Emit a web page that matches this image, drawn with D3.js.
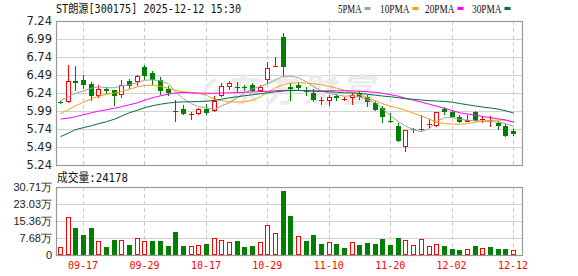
<!DOCTYPE html>
<html>
<head>
<meta charset="utf-8">
<script src="https://cdn.jsdelivr.net/npm/d3@7"></script>
<style>
  body { margin: 0; background: #fff; }
  svg { display: block; }
</style>
</head>
<body>
<svg id="chart" width="578" height="276"></svg>
<script>
// ---- data ----
const dates = [
  '09-12','09-15','09-16','09-17','09-18','09-19','09-22','09-23','09-24','09-25','09-26','09-29','09-30',
  '10-09','10-10','10-13','10-14','10-15','10-16','10-17','10-20','10-21','10-22','10-23','10-24','10-27','10-28','10-29','10-30','10-31',
  '11-03','11-04','11-05','11-06','11-07','11-10','11-11','11-12','11-13','11-14','11-17','11-18','11-19','11-20','11-21','11-24','11-25','11-26','11-27','11-28',
  '12-01','12-02','12-03','12-04','12-05','12-08','12-09','12-10','12-11','12-12'
];
const open = [
  6.11, 6.115, 6.41, 6.416, 6.36, 6.194, 6.30, 6.277, 6.212, 6.402,
  6.388, 6.606, 6.518, 6.425, 6.30, 5.985, 6.012, 5.935, 5.95, 6.022,
  5.984, 6.192, 6.33, 6.32, 6.32, 6.354, 6.27, 6.414, 6.60, 7.014,
  6.32, 6.358, 6.265, 6.234, 6.135, 6.123, 6.202, 6.155, 6.17, 6.24,
  6.181, 6.101, 6.036, 5.85, 5.786, 5.49, 5.735, 5.735, 5.795, 5.777,
  6.018, 5.971, 5.907, 5.838, 5.971, 5.865, 5.852, 5.824, 5.786, 5.717
];
const high = [
  6.133, 6.624, 6.61, 6.485, 6.393, 6.356, 6.323, 6.286, 6.416, 6.434,
  6.49, 6.634, 6.541, 6.462, 6.333, 6.137, 6.067, 5.976, 6.03, 6.087,
  6.192, 6.378, 6.40, 6.386, 6.354, 6.372, 6.345, 6.666, 6.746, 7.08,
  6.378, 6.386, 6.326, 6.295, 6.178, 6.216, 6.22, 6.184, 6.24, 6.261,
  6.216, 6.13, 6.056, 5.962, 5.824, 5.725, 5.755, 5.939, 5.879, 5.98,
  6.045, 6.008, 5.939, 5.939, 5.985, 5.915, 5.915, 5.846, 5.814, 5.741
];
const low = [
  6.087, 6.10, 6.263, 6.296, 6.125, 6.166, 6.226, 6.055, 6.166, 6.30,
  6.333, 6.425, 6.356, 6.217, 6.194, 5.838, 5.935, 5.865, 5.94, 5.935,
  5.97, 6.178, 6.285, 6.247, 6.261, 6.247, 6.247, 6.37, 6.60, 6.469,
  6.123, 6.275, 6.202, 6.115, 6.077, 6.063, 6.133, 6.133, 6.077, 6.146,
  6.05, 5.99, 5.824, 5.824, 5.565, 5.417, 5.685, 5.708, 5.755, 5.77,
  5.939, 5.893, 5.824, 5.832, 5.832, 5.824, 5.763, 5.731, 5.63, 5.64
];
const close = [
  6.105, 6.407, 6.375, 6.346, 6.194, 6.30, 6.272, 6.194, 6.356, 6.333,
  6.48, 6.481, 6.425, 6.263, 6.24, 5.978, 5.948, 5.955, 6.022, 5.957,
  6.133, 6.34, 6.372, 6.31, 6.305, 6.267, 6.33, 6.585, 6.61, 6.599,
  6.30, 6.305, 6.255, 6.146, 6.14, 6.178, 6.17, 6.16, 6.216, 6.178,
  6.112, 6.008, 5.904, 5.84, 5.569, 5.72, 5.728, 5.73, 5.805, 5.976,
  5.971, 5.901, 5.832, 5.86, 5.855, 5.875, 5.86, 5.777, 5.638, 5.676
];
const closeBefore = 6.05;
const volume = [
  36000, 170000, 122000, 90000, 122000, 62000, 36000, 68000, 66000, 45000,
  75000, 62000, 63000, 63000, 41000, 104000, 41000, 39000, 44000, 50000,
  75000, 66000, 57000, 63000, 36000, 41000, 57000, 134000, 98000, 289000,
  176000, 84000, 63000, 90000, 50000, 57000, 50000, 32000, 57000, 45000,
  54000, 50000, 72000, 45000, 77000, 66000, 44000, 71000, 39000, 48000,
  41000, 27000, 23000, 26000, 41000, 30000, 36000, 27000, 27000, 24178
];
const ma5 = [
  6.133, 6.188, 6.236, 6.27, 6.305, 6.326, 6.313, 6.313, 6.34, 6.354,
  6.382, 6.416, 6.423, 6.41, 6.368, 6.257, 6.16, 6.091, 6.05, 6.036,
  6.008, 6.063, 6.105, 6.174, 6.243, 6.299, 6.333, 6.368, 6.423, 6.472,
  6.472, 6.451, 6.396, 6.326, 6.271, 6.236, 6.216, 6.195, 6.202, 6.188,
  6.146, 6.105, 6.022, 5.925, 5.842, 5.78, 5.731, 5.703, 5.745, 5.842,
  5.897, 5.897, 5.876, 5.862, 5.856, 5.849, 5.842, 5.835, 5.814, 5.78
];
const ma10 = [
  5.953, 6.008, 6.063, 6.112, 6.16, 6.195, 6.223, 6.24, 6.257, 6.292,
  6.326, 6.344, 6.347, 6.333, 6.306, 6.278, 6.257, 6.243, 6.236, 6.209,
  6.153, 6.133, 6.119, 6.115, 6.119, 6.14, 6.188, 6.25, 6.313, 6.354,
  6.375, 6.382, 6.379, 6.368, 6.354, 6.33, 6.308, 6.278, 6.25, 6.216,
  6.174, 6.133, 6.091, 6.056, 6.029, 6.001, 5.96, 5.918, 5.876, 5.835,
  5.814, 5.807, 5.807, 5.814, 5.835, 5.849, 5.86, 5.862, 5.865, 5.835
];
const ma20 = [
  5.879, 5.89, 5.911, 5.939, 5.966, 5.987, 6.008, 6.029, 6.05, 6.077,
  6.105, 6.14, 6.174, 6.202, 6.223, 6.243, 6.247, 6.243, 6.239, 6.236,
  6.236, 6.239, 6.243, 6.246, 6.25, 6.254, 6.26, 6.264, 6.271, 6.275,
  6.278, 6.275, 6.271, 6.268, 6.268, 6.271, 6.271, 6.271, 6.268, 6.264,
  6.257, 6.25, 6.236, 6.216, 6.195, 6.167, 6.14, 6.112, 6.084, 6.056,
  6.029, 5.994, 5.966, 5.948, 5.932, 5.915, 5.897, 5.88, 5.865, 5.835
];
const ma30 = [
  5.634, 5.683, 5.731, 5.759, 5.786, 5.814, 5.842, 5.876, 5.918, 5.966,
  6.001, 6.036, 6.063, 6.084, 6.101, 6.112, 6.116, 6.119, 6.122, 6.126,
  6.137, 6.153, 6.174, 6.188, 6.202, 6.216, 6.23, 6.243, 6.257, 6.267,
  6.274, 6.274, 6.271, 6.267, 6.261, 6.257, 6.25, 6.243, 6.24, 6.236,
  6.223, 6.209, 6.198, 6.188, 6.174, 6.16, 6.153, 6.142, 6.133, 6.129,
  6.123, 6.112, 6.095, 6.077, 6.059, 6.045, 6.032, 6.015, 5.994, 5.962
];
const priceTicks = [5.24, 5.49, 5.74, 5.99, 6.24, 6.49, 6.74, 6.99, 7.24];
const volTicks = [0, 76800, 153600, 230300, 307100];
const volTickLabels = ['0', '7.68万', '15.36万', '23.03万', '30.71万'];
const dateTicks = ['09-17', '09-29', '10-17', '10-29', '11-10', '11-20', '12-02', '12-12'];
const maNames = ['5PMA', '10PMA', '20PMA', '30PMA'];

// ---- layout ----
const left = 56, right = 522;
const pTop = 21, pBottom = 165;
const vTop = 187, vBottom = 255;
const RED = '#ff0000', GREEN = '#008000';
const maColors = ['#a0a0a0', '#f0a30a', '#ff00ff', '#00703c'];
const maData = [ma5, ma10, ma20, ma30];
const monoFont = '"DejaVu Sans Mono", "Noto Sans CJK SC", monospace';

const svg = d3.select('#chart');

const x = d3.scaleBand().domain(dates).range([left, 517]).paddingInner(0.35).paddingOuter(0.2);
const cx = (i) => Math.round(x(dates[i]) + x.bandwidth() / 2);
const y = d3.scaleLinear().domain([5.24, 7.24]).range([pBottom, pTop]);
const yv = d3.scaleLinear().domain([0, 307100]).range([vBottom, vTop]);
const crisp = (v) => Math.round(v) + 0.5;

// ---- gridlines ----
const grid = svg.append('g');
grid.selectAll('.hp').data(priceTicks).join('line')
  .attr('x1', left).attr('x2', right)
  .attr('y1', (d) => crisp(y(d))).attr('y2', (d) => crisp(y(d)))
  .attr('stroke', '#d2d2d2');
grid.selectAll('.hv').data(volTicks).join('line')
  .attr('x1', left).attr('x2', right)
  .attr('y1', (d) => crisp(yv(d))).attr('y2', (d) => crisp(yv(d)))
  .attr('stroke', '#d2d2d2');
[[pTop, pBottom], [vTop, vBottom]].forEach(([a, b]) => {
  grid.append('g').selectAll('line').data(dateTicks).join('line')
    .attr('x1', (d) => cx(dates.indexOf(d)) + 0.5).attr('x2', (d) => cx(dates.indexOf(d)) + 0.5)
    .attr('y1', a).attr('y2', b)
    .attr('stroke', '#cccccc').attr('stroke-dasharray', '4,3');
});

// ---- watermark ----
const wm = svg.append('g').attr('fill', '#ebebeb');
wm.append('path')
  .attr('d', 'M214,78 C204,84 200,96 206,104 C203,94 208,86 218,80 Z M219,86 C212,92 211,100 216,104 C215,97 218,92 223,88 Z');
wm.append('text')
  .attr('x', 226).attr('y', 102)
  .attr('font-family', '"Noto Sans CJK SC", sans-serif')
  .attr('font-weight', 'bold').attr('font-size', 33)
  .attr('letter-spacing', 6)
  .attr('transform', 'skewX(-8) translate(14,0)')
  .text('东方财富');

// ---- candles ----
const candles = svg.append('g');
dates.forEach((d, i) => {
  const c = cx(i);
  const up = close[i] > open[i];
  const col = up ? RED : GREEN;
  const yTop = Math.round(y(Math.max(open[i], close[i])));
  const yBot = Math.max(yTop + 1, Math.round(y(Math.min(open[i], close[i]))));
  const yHi = Math.round(y(high[i]));
  const yLo = Math.round(y(low[i]));
  if (up) {
    candles.append('line').attr('x1', c + 0.5).attr('x2', c + 0.5).attr('y1', yHi).attr('y2', yTop).attr('stroke', col);
    candles.append('line').attr('x1', c + 0.5).attr('x2', c + 0.5).attr('y1', yBot).attr('y2', yLo).attr('stroke', col);
    candles.append('rect').attr('x', c - 1.5).attr('y', yTop + 0.5)
      .attr('width', 4).attr('height', Math.max(0.01, yBot - yTop - 1))
      .attr('fill', '#fff').attr('stroke', col);
  } else {
    candles.append('line').attr('x1', c + 0.5).attr('x2', c + 0.5).attr('y1', yHi).attr('y2', yLo).attr('stroke', col);
    candles.append('rect').attr('x', c - 2).attr('y', yTop)
      .attr('width', 5).attr('height', yBot - yTop).attr('fill', col);
  }
});

// ---- moving averages ----
const maLine = (arr) => d3.line().x((v, i) => cx(i) + 0.5).y((v) => y(v))(arr);
svg.append('g').selectAll('path').data(maData).join('path')
  .attr('d', (arr) => maLine(arr))
  .attr('fill', 'none')
  .attr('stroke', (d, i) => maColors[i])
  .attr('stroke-width', 1);

// ---- volume bars ----
const vols = svg.append('g');
volume.forEach((v, i) => {
  const prev = i === 0 ? closeBefore : close[i - 1];
  const up = close[i] > prev;
  const c = cx(i);
  const yTop = Math.round(yv(v));
  if (up) {
    vols.append('rect').attr('x', c - 1.5).attr('y', yTop + 0.5)
      .attr('width', 4).attr('height', vBottom - yTop - 1)
      .attr('fill', '#fff').attr('stroke', RED);
  } else {
    vols.append('rect').attr('x', c - 2).attr('y', yTop)
      .attr('width', 5).attr('height', vBottom - yTop).attr('fill', GREEN);
  }
});

// ---- frames ----
[[pTop, pBottom], [vTop, vBottom]].forEach(([a, b]) => {
  svg.append('rect').attr('x', left + 0.5).attr('y', a + 0.5)
    .attr('width', right - left).attr('height', b - a)
    .attr('fill', 'none').attr('stroke', '#999').attr('stroke-width', 1.2);
});

// ---- axes ----
const priceAxis = svg.append('g').attr('transform', `translate(${left},0)`)
  .call(d3.axisLeft(y).tickValues(priceTicks).tickSize(0).tickPadding(4).tickFormat(d3.format('.2f')));
priceAxis.select('.domain').remove();
priceAxis.selectAll('text')
  .attr('font-family', '"DejaVu Sans", sans-serif').attr('font-size', 11.5).attr('fill', '#222');

const volAxis = svg.append('g').attr('transform', `translate(${left},0)`)
  .call(d3.axisLeft(yv).tickValues(volTicks).tickSize(0).tickPadding(4).tickFormat((d, i) => volTickLabels[i]));
volAxis.select('.domain').remove();
volAxis.selectAll('text')
  .attr('font-family', '"Liberation Sans", Arial, sans-serif').attr('font-size', 11).attr('fill', '#222');

const dateAxis = svg.append('g').attr('transform', `translate(0,${vBottom})`)
  .call(d3.axisBottom(x).tickValues(dateTicks).tickSize(0).tickPadding(6));
dateAxis.select('.domain').remove();
dateAxis.selectAll('text')
  .attr('font-family', monoFont).attr('font-size', 11).attr('fill', RED)
  .attr('textLength', 30).attr('lengthAdjust', 'spacingAndGlyphs');

// ---- titles & legend ----
svg.append('text').attr('x', left).attr('y', 13)
  .attr('font-family', monoFont).attr('font-size', 12).attr('fill', '#111')
  .attr('textLength', 185).attr('lengthAdjust', 'spacingAndGlyphs')
  .text('ST朗源[300175] 2025-12-12 15:30');

svg.append('text').attr('x', 57).attr('y', 182)
  .attr('font-family', monoFont).attr('font-size', 12).attr('fill', '#111')
  .attr('textLength', 71).attr('lengthAdjust', 'spacingAndGlyphs')
  .text('成交量:' + volume[volume.length - 1]);

const legendX = [338, 380, 425, 472];
const legend = svg.append('g').selectAll('g').data(maNames).join('g')
  .attr('transform', (d, i) => `translate(${legendX[i]},0)`);
legend.append('text').attr('x', 0).attr('y', 13)
  .attr('font-family', '"Liberation Serif", serif').attr('font-size', 12).attr('fill', '#111')
  .attr('textLength', (d) => d.length * 5.9).attr('lengthAdjust', 'spacingAndGlyphs')
  .text((d) => d);
legend.append('rect')
  .attr('x', (d) => d.length * 5.9 + 3).attr('y', 7)
  .attr('width', 6).attr('height', 3)
  .attr('fill', (d, i) => maColors[i]);
</script>
</body>
</html>
